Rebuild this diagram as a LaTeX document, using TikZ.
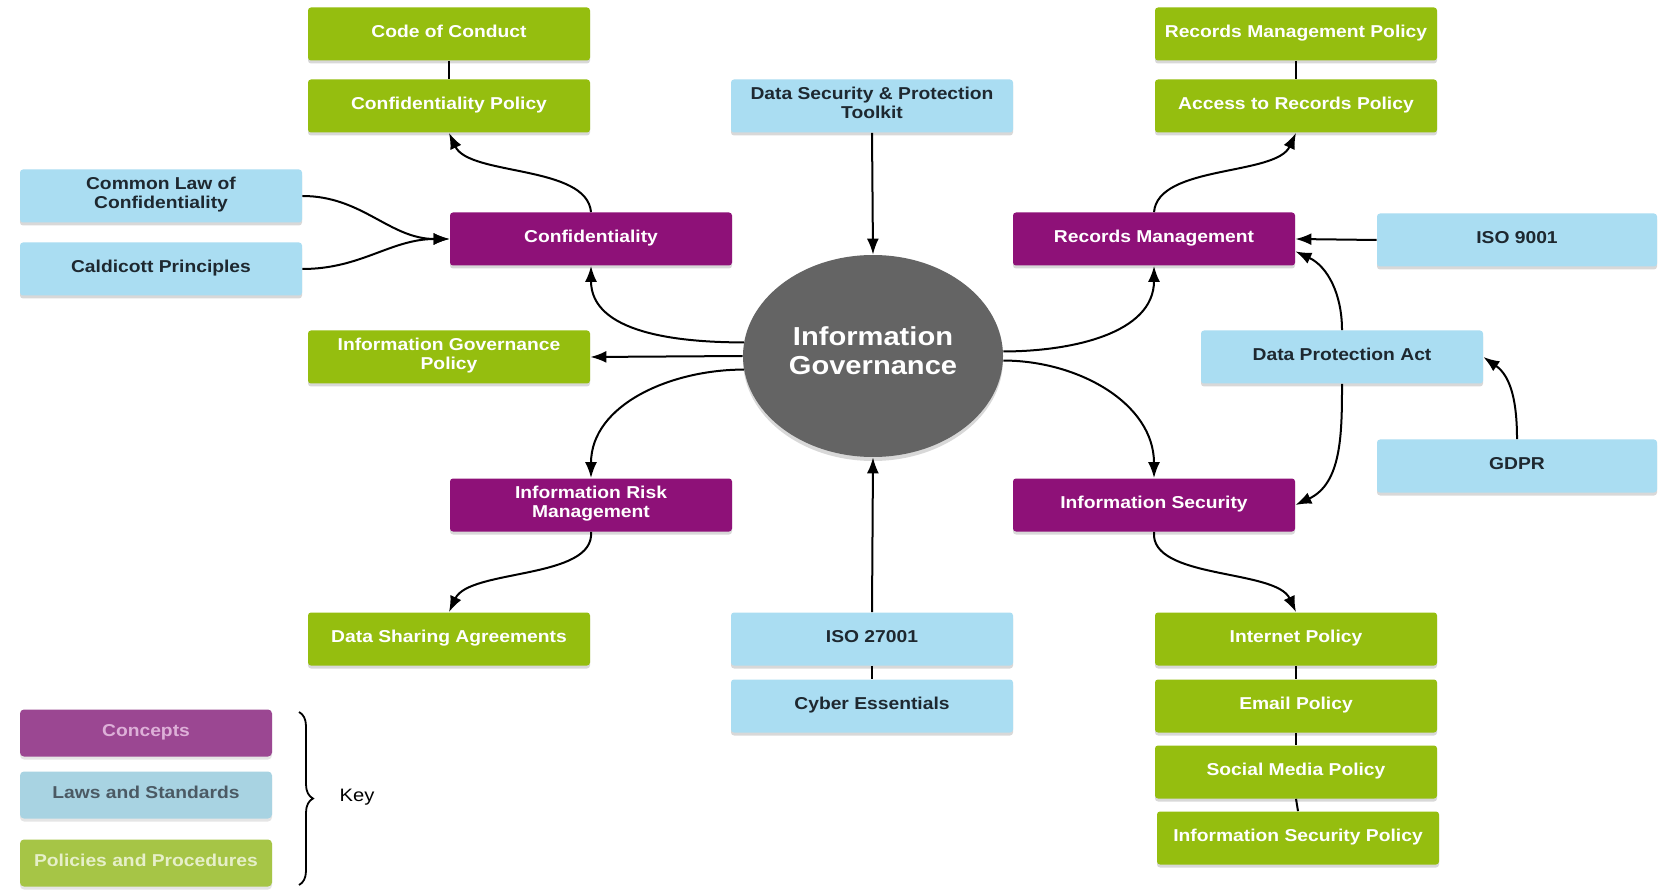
\documentclass[tikz,border=0pt]{standalone}
\usepackage{fontspec}
\newfontfamily\lab{Liberation Sans}[FakeStretch=1.12]
\usetikzlibrary{shapes.geometric,arrows.meta,shadows,decorations.pathreplacing}
\definecolor{cpurple}{HTML}{8E1178}
\definecolor{cblue}{HTML}{AADDF2}
\definecolor{cgreen}{HTML}{95BE0F}
\definecolor{cgray}{HTML}{646464}
\definecolor{ltext}{HTML}{1E2830}
\definecolor{kpurple}{HTML}{9B4792}
\definecolor{kpurpletext}{HTML}{DDB0D8}
\definecolor{kblue}{HTML}{A8D3E2}
\definecolor{kbluetext}{HTML}{4B5A64}
\definecolor{kgreen}{HTML}{A6C546}
\definecolor{kgreentext}{HTML}{E6EFC9}
\tikzset{
  box/.style={rectangle, rounded corners=1.5pt, minimum width=141pt, minimum height=26.5pt,
    inner sep=0pt, align=center, font=\lab\bfseries\fontsize{8.6}{9.4}\selectfont,
    execute at begin node={\rule{0pt}{7pt}},
    execute at end node={\rule[-3.3pt]{0pt}{3.3pt}},
    drop shadow={shadow xshift=0pt, shadow yshift=-1.5pt, opacity=0.3}},
  concept/.style={box, fill=cpurple, text=white},
  law/.style={box, fill=cblue, text=ltext},
  pol/.style={box, fill=cgreen, text=white},
  keybox/.style={rectangle, rounded corners=2pt, minimum width=126pt, minimum height=23.5pt,
    inner sep=0pt, font=\lab\bfseries\fontsize{8.6}{9.2}\selectfont,
    execute at begin node={\rule{0pt}{7pt}},
    execute at end node={\rule[-3.3pt]{0pt}{3.3pt}},
    drop shadow={shadow xshift=0pt, shadow yshift=-1.5pt, opacity=0.2}},
  conn/.style={line width=1pt, black},
  arr/.style={conn, -{Latex[length=8pt,width=6pt]}},
}
\begin{document}
\begin{tikzpicture}[x=0.5pt,y=0.5pt]
\useasboundingbox (0,0) rectangle (1663,-892);
\fill[white] (0,0) rectangle (1663,-892);

% central ellipse
\node[ellipse, fill=cgray, minimum width=130pt, minimum height=101pt, inner sep=0pt,
  text=white, align=center, font=\lab\bfseries\fontsize{13}{14.3}\selectfont,
  execute at end node={\rule[-5.5pt]{0pt}{5.5pt}},
  drop shadow={shadow xshift=0pt, shadow yshift=-2pt, opacity=0.3}] (ig) at (873,-356) {Information\\Governance};

% concepts
\node[concept] (conf) at (591,-239) {Confidentiality};
\node[concept] (rm) at (1154,-239) {Records Management};
\node[concept] (irm) at (591,-505) {Information Risk\\Management};
\node[concept] (is) at (1154,-505) {Information Security};

% laws and standards
\node[law] (dspt) at (872,-106) {Data Security \& Protection\\Toolkit};
\node[law] (clc) at (161,-196) {Common Law of\\Confidentiality};
\node[law] (cald) at (161,-269) {Caldicott Principles};
\node[law, minimum width=140pt] (iso9) at (1517,-240) {ISO 9001};
\node[law] (dpa) at (1342,-357) {Data Protection Act};
\node[law, minimum width=140pt] (gdpr) at (1517,-466) {GDPR};
\node[law] (iso27) at (872,-639) {ISO 27001};
\node[law] (cyber) at (872,-706) {Cyber Essentials};

% policies
\node[pol] (coc) at (449,-34) {Code of Conduct};
\node[pol] (cpol) at (449,-106) {Confidentiality Policy};
\node[pol] (rmp) at (1296,-34) {Records Management Policy};
\node[pol] (arp) at (1296,-106) {Access to Records Policy};
\node[pol] (igp) at (449,-357) {Information Governance\\Policy};
\node[pol] (dsa) at (449,-639) {Data Sharing Agreements};
\node[pol] (inet) at (1296,-639) {Internet Policy};
\node[pol] (email) at (1296,-706) {Email Policy};
\node[pol] (social) at (1296,-772) {Social Media Policy};
\node[pol] (isp) at (1298,-838) {Information Security Policy};

% plain links
\draw[conn] (coc.south) -- (cpol.north);
\draw[conn] (rmp.south) -- (arp.north);
\draw[conn] (iso27.south) -- (cyber.north);
\draw[conn] (inet.south) -- (email.north);
\draw[conn] (email.south) -- (social.north);
\draw[conn] (social.south) -- (isp.north);

% arrows
\draw[arr] (conf.north) to[out=95,in=-65,looseness=0.75] (cpol.south);
\draw[arr] (rm.north) to[out=85,in=-115,looseness=0.75] (arp.south);
\draw[arr] (irm.south) to[out=-85,in=65,looseness=0.75] (dsa.north);
\draw[arr] (is.south) to[out=-95,in=115,looseness=0.75] (inet.north);
\draw[arr] (clc.east) to[out=0,in=180] (conf.west);
\draw[arr] (cald.east) to[out=0,in=180] (conf.west);
\draw[arr] (dspt.south) -- (ig.north);
\draw[arr] (iso27.north) -- (ig.south);
\draw[arr] (ig.174) to[out=180,in=-90] (conf.south);
\draw[arr] (ig.west) -- (igp.east);
\draw[arr] (ig.186) to[out=180,in=90] (irm.north);
\draw[arr] (ig.2) to[out=0,in=-90] (rm.south);
\draw[arr] (ig.-2) to[out=0,in=90] (is.north);
\draw[arr] (iso9.west) -- (rm.east);
\draw[arr] (dpa.north) to[out=90,in=-25] (rm.-5.6);
\draw[arr] (dpa.south) to[out=-90,in=25] (is.east);
\draw[arr] (gdpr.north) to[out=90,in=-35] (dpa.east);

% key
\node[keybox, fill=kpurple, text=kpurpletext] (kc) at (146,-733) {Concepts};
\node[keybox, fill=kblue, text=kbluetext] (kl) at (146,-795) {Laws and Standards};
\node[keybox, fill=kgreen, text=kgreentext] (kp) at (146,-863) {Policies and Procedures};
\coordinate (brtop) at (299,-712);
\coordinate (brbot) at (299,-885);
\draw[line width=0.9pt, decorate, decoration={brace, amplitude=7pt}] (brtop) -- (brbot);
\node[font=\lab\fontsize{9}{10}\selectfont] (key) at (357,-797) {Key};
\end{tikzpicture}
\end{document}
